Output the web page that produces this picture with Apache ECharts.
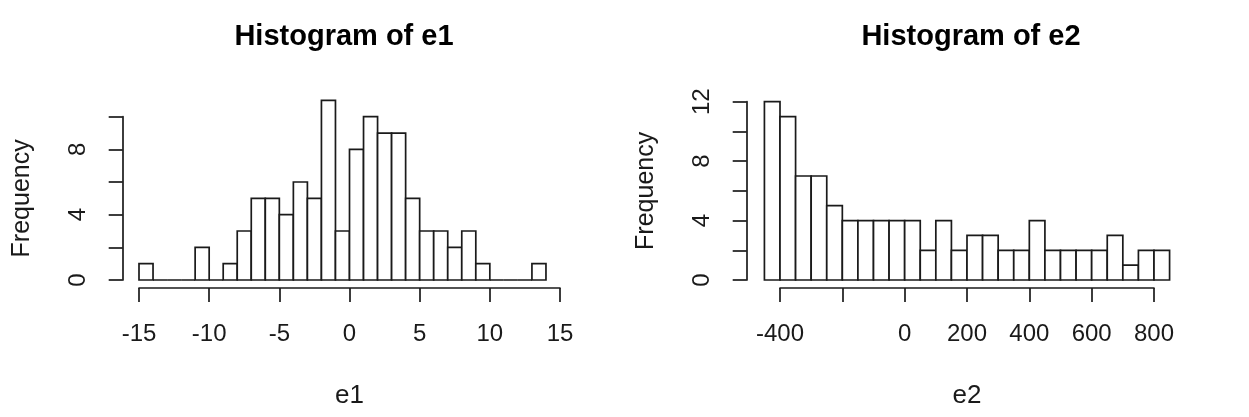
<!DOCTYPE html>
<html>
<head>
<meta charset="utf-8">
<script src="https://cdn.jsdelivr.net/npm/echarts@6/dist/echarts.min.js"></script>
<style>
    html, body { margin: 0; padding: 0; background: #fff; }
    #chart { width: 1249px; height: 417px; }
</style>
</head>
<body>
<div id="chart"></div>
<script>
// histogram counts, one per bin
var e1Start = -15;
var e1Width = 1;
var e1Counts = [1, 0, 0, 0, 2, 0, 1, 3, 5, 5, 4, 6, 5, 11, 3, 8, 10, 9, 9, 5, 3, 3, 2, 3, 1, 0, 0, 0, 1];

var e2Start = -450;
var e2Width = 50;
var e2Counts = [12, 11, 7, 7, 5, 4, 4, 4, 4, 4, 2, 4, 2, 3, 3, 2, 2, 4, 2, 2, 2, 2, 3, 1, 2, 2];

var e1Hidden = [];
var e2Hidden = [-200];
var yShown = [0, 4, 8, 12];

var font = 'Liberation Sans, Arial, sans-serif';
var ink = '#1a1a1a';
var lw = 1.7;

function toBins(start, width, counts) {
    var bins = [];
    for (var i = 0; i < counts.length; i++) {
        bins.push([start + i * width, start + (i + 1) * width, counts[i]]);
    }
    return bins;
}

function renderBar(params, api) {
    var p0 = api.coord([api.value(0), 0]);
    var p1 = api.coord([api.value(1), api.value(2)]);
    return {
        type: 'rect',
        shape: {x: p0[0], y: p1[1], width: p1[0] - p0[0], height: p0[1] - p1[1]},
        style: {fill: '#fff', stroke: ink, lineWidth: lw}
    };
}

function xAxisFor(idx, min, max, step, hidden, name) {
    return {
        type: 'value',
        gridIndex: idx,
        min: min,
        max: max,
        interval: step,
        offset: 8,
        name: name,
        nameLocation: 'middle',
        nameGap: 95,
        nameTextStyle: {fontFamily: font, fontSize: 26, color: ink},
        axisLine: {show: true, onZero: false, lineStyle: {color: ink, width: lw}},
        axisTick: {show: true, length: 14, lineStyle: {color: ink, width: lw}},
        axisLabel: {
            margin: 34,
            fontFamily: font,
            fontSize: 24,
            color: ink,
            formatter: function (v) {
                return hidden.indexOf(v) >= 0 ? '' : String(v);
            }
        },
        splitLine: {show: false}
    };
}

function yAxisFor(idx, max, offset) {
    return {
        type: 'value',
        gridIndex: idx,
        min: 0,
        max: max,
        interval: 2,
        offset: offset,
        name: 'Frequency',
        nameLocation: 'middle',
        nameGap: 88,
        nameTextStyle: {fontFamily: font, fontSize: 25, color: ink},
        axisLine: {show: true, onZero: false, lineStyle: {color: ink, width: lw}},
        axisTick: {show: true, length: 14, lineStyle: {color: ink, width: lw}},
        axisLabel: {
            rotate: 90,
            margin: 32,
            fontFamily: font,
            fontSize: 24,
            color: ink,
            formatter: function (v) {
                return yShown.indexOf(v) >= 0 ? String(v) : '';
            }
        },
        splitLine: {show: false}
    };
}

var chart = echarts.init(document.getElementById('chart'));
chart.setOption({
    backgroundColor: '#fff',
    animation: false,
    title: [
        {
            text: 'Histogram of e1',
            left: 339, top: 17, textAlign: 'center',
            textStyle: {fontFamily: font, fontSize: 29, fontWeight: 'bold', color: '#000'}
        },
        {
            text: 'Histogram of e2',
            left: 966, top: 17, textAlign: 'center',
            textStyle: {fontFamily: font, fontSize: 29, fontWeight: 'bold', color: '#000'}
        }
    ],
    grid: [
        {left: 139, top: 116.7, width: 421, height: 163.3},
        {left: 780, top: 101.7, width: 374, height: 178.3}
    ],
    xAxis: [
        xAxisFor(0, -15, 15, 5, e1Hidden, 'e1'),
        xAxisFor(1, -400, 800, 200, e2Hidden, 'e2')
    ],
    yAxis: [
        yAxisFor(0, 10, 16.3),
        yAxisFor(1, 12, 33.3)
    ],
    series: [
        {
            type: 'custom',
            xAxisIndex: 0,
            yAxisIndex: 0,
            renderItem: renderBar,
            encode: {x: [0, 1], y: 2},
            clip: false,
            data: toBins(e1Start, e1Width, e1Counts)
        },
        {
            type: 'custom',
            xAxisIndex: 1,
            yAxisIndex: 1,
            renderItem: renderBar,
            encode: {x: [0, 1], y: 2},
            clip: false,
            data: toBins(e2Start, e2Width, e2Counts)
        }
    ]
});
</script>
</body>
</html>
